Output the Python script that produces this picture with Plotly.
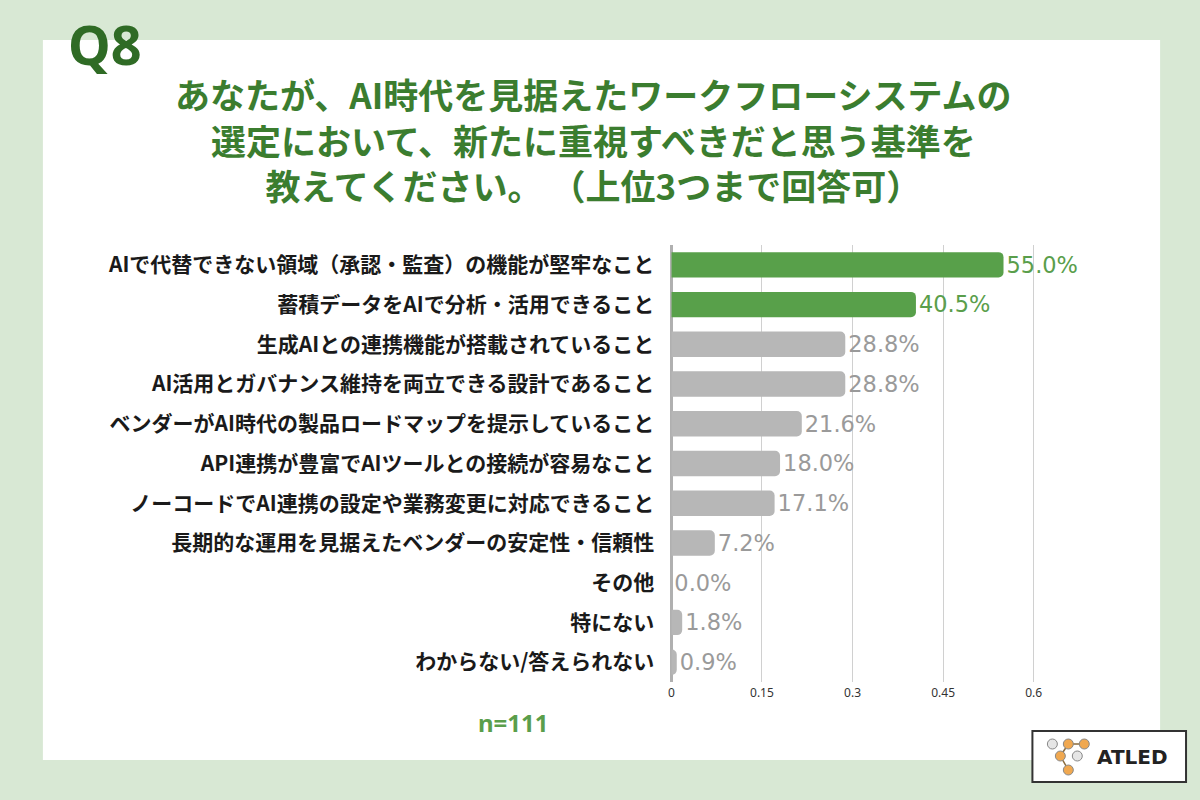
import plotly.graph_objects as go

categories = [
    "AIで代替できない領域（承認・監査）の機能が堅牢なこと",
    "蓄積データをAIで分析・活用できること",
    "生成AIとの連携機能が搭載されていること",
    "AI活用とガバナンス維持を両立できる設計であること",
    "ベンダーがAI時代の製品ロードマップを提示していること",
    "API連携が豊富でAIツールとの接続が容易なこと",
    "ノーコードでAI連携の設定や業務変更に対応できること",
    "長期的な運用を見据えたベンダーの安定性・信頼性",
    "その他",
    "特にない",
    "わからない/答えられない",
]
values = [0.550, 0.405, 0.288, 0.288, 0.216, 0.180, 0.171, 0.072, 0.000, 0.018, 0.009]
highlight = [True, True, False, False, False, False, False, False, False, False, False]
tick_vals = [0, 0.15, 0.3, 0.45, 0.6]
tick_text = ["0", "0.15", "0.3", "0.45", "0.6"]
title_lines = [
    "あなたが、AI時代を見据えたワークフローシステムの",
    "選定において、新たに重視すべきだと思う基準を",
    "教えてください。 （上位3つまで回答可）",
]

GREEN = "#58a04a"
GRAY = "#b7b7b7"
W, H = 1200, 800

def px(x):
    return x / W

def py(y):
    return 1 - y / H

bar_colors = [GREEN if h else GRAY for h in highlight]
text_colors = ["#5a9e4b" if h else "#9a9a9a" for h in highlight]
labels = [f"{v*100:.1f}%" for v in values]

fig = go.Figure()
fig.add_trace(go.Bar(
    y=categories, x=values, orientation="h",
    marker=dict(color=bar_colors, cornerradius=5, line=dict(width=0)),
    text=labels, textposition="outside",
    textfont=dict(family="DejaVu Sans", size=23, color=text_colors),
    cliponaxis=False, hoverinfo="skip",
))

shapes = [
    # white panel
    dict(type="rect", xref="paper", yref="paper", x0=px(40), x1=px(1160), y0=py(760), y1=py(40),
         fillcolor="white", line=dict(width=0), layer="below"),
    # logo box
    dict(type="rect", xref="paper", yref="paper", x0=px(1032), x1=px(1186), y0=py(782), y1=py(731),
         fillcolor="white", line=dict(color="#333333", width=2), layer="above"),
]
# logo connectors
for (a, b) in [((1068, 744), (1084, 744)), ((1068, 744), (1060, 756)), ((1060, 756), (1068, 770))]:
    shapes.append(dict(type="line", xref="paper", yref="paper", x0=px(a[0]), y0=py(a[1]),
                       x1=px(b[0]), y1=py(b[1]), line=dict(color="#8a6a3a", width=1.5)))
for (cx, cy, col) in [(1052, 744, "#e6e6e6"), (1068, 744, "#f0a850"), (1084, 744, "#f0a850"),
                      (1060, 756, "#f0a850"), (1077, 756, "#e6e6e6"), (1068, 770, "#f0a850")]:
    r = 5
    shapes.append(dict(type="circle", xref="paper", yref="paper", x0=px(cx - r), x1=px(cx + r),
                       y0=py(cy + r), y1=py(cy - r), fillcolor=col,
                       line=dict(color="#888888", width=1)))

title_font = dict(family="Noto Sans CJK JP", size=35, color="#3b7d2f", weight="bold")

def ann(text, x, y, font, **kw):
    return dict(text=text, x=px(x), y=py(y), xref="paper", yref="paper", showarrow=False,
                xanchor="center", yanchor="middle", font=font, **kw)

annotations = [
    ann("Q8", 102, 44, dict(family="Noto Sans", size=54, color="#2f6b25", weight="bold")),
    ann("<br>".join(title_lines), 592, 139, title_font, align="center"),
    ann("n=111", 512, 722, dict(family="Noto Sans", size=24, color="#5a9e4b", weight="bold")),
    ann("ATLED", 1132, 757, dict(family="DejaVu Sans", size=20, color="#222222", weight="bold")),
]

fig.update_layout(
    width=W, height=H,
    margin=dict(l=0, r=0, t=0, b=0),
    paper_bgcolor="#d8e8d4", plot_bgcolor="rgba(0,0,0,0)",
    showlegend=False, bargap=0.36,
    shapes=shapes, annotations=annotations,
    xaxis=dict(domain=[px(670), px(670 + 0.7 * 605.5)], range=[0, 0.7],
               tickvals=tick_vals, ticktext=tick_text,
               tickfont=dict(family="Noto Sans", size=12, color="#333333"),
               showgrid=True, gridcolor="#d0d0d0", gridwidth=1,
               zeroline=True, zerolinecolor="#b0b0b0", zerolinewidth=3,
               ticks="", ticklabelstandoff=2, fixedrange=True),
    yaxis=dict(domain=[py(682), py(245)], autorange="reversed",
               tickfont=dict(family="Noto Sans CJK JP", size=21, color="#1a1a1a", weight="bold"),
               ticks="", ticklabelstandoff=16, showgrid=False, zeroline=False, fixedrange=True),
)

fig.write_html("out.html")
